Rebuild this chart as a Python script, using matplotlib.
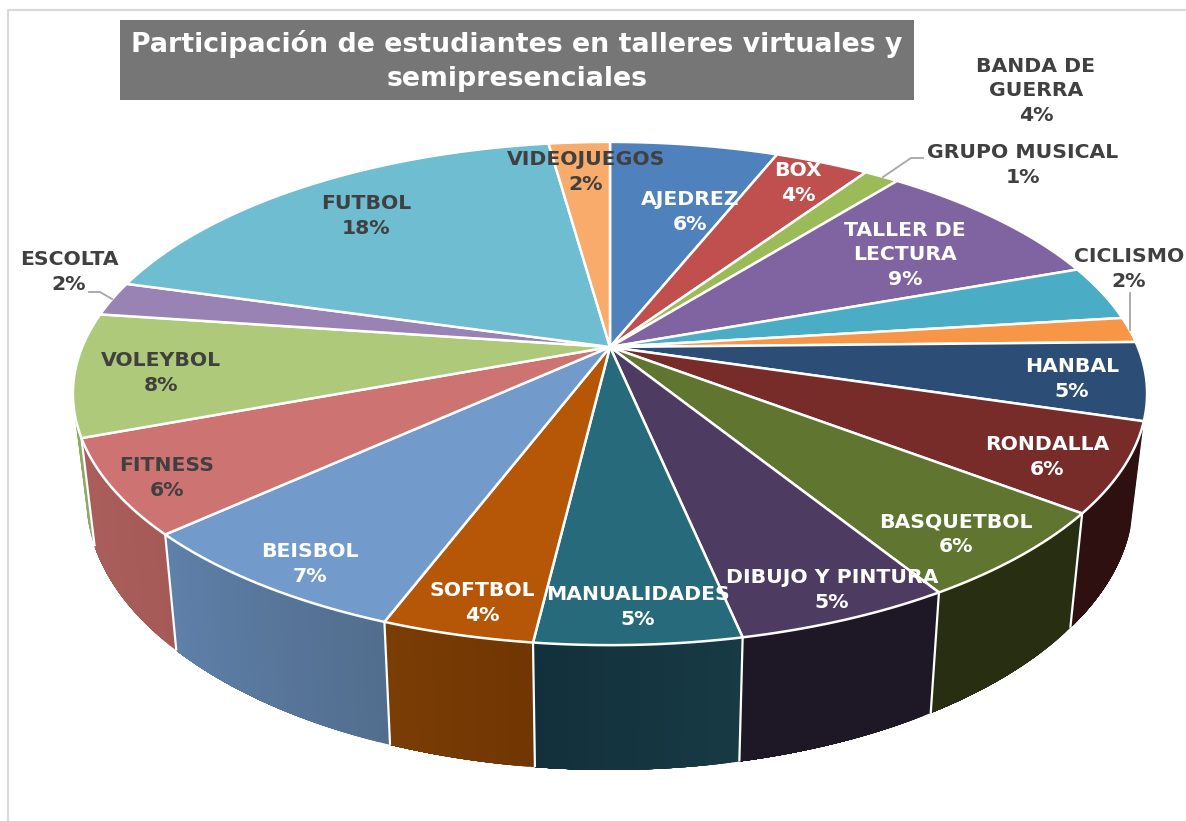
import numpy as np
import matplotlib
matplotlib.use('Agg')
import matplotlib.pyplot as plt
from matplotlib.colors import to_rgb
from matplotlib.patches import Rectangle

title = 'Participación de estudiantes en talleres virtuales y\nsemipresenciales'
talleres = ['AJEDREZ', 'BOX', 'GRUPO MUSICAL', 'TALLER DE\nLECTURA', 'BANDA DE\nGUERRA',
            'CICLISMO', 'HANBAL', 'RONDALLA', 'BASQUETBOL', 'DIBUJO Y PINTURA',
            'MANUALIDADES', 'SOFTBOL', 'BEISBOL', 'FITNESS', 'VOLEYBOL', 'ESCOLTA',
            'FUTBOL', 'VIDEOJUEGOS']
# printed labels
porcentajes = [6, 4, 1, 9, 4, 2, 5, 6, 6, 5, 5, 4, 7, 6, 8, 2, 18, 2]
# slice sizes (the labels are rounded)
shares = [6.05, 3.39, 1.26, 8.8, 3.55, 1.62, 5.0, 5.73, 5.8, 5.5, 5.2, 3.85, 7.45, 6.1, 7.9,
          2.2, 18.4, 2.2]

# styles, same order as talleres
top_colors = ['#4F81BD', '#C0504D', '#9BBB59', '#8064A2', '#4BACC6', '#F79646',
              '#2C4D75', '#772C2A', '#5F7530', '#4D3B62', '#276A7C', '#B65708',
              '#729ACA', '#CD7371', '#AFC97A', '#9983B5', '#6FBDD1', '#F9AB6B']
side_a = ['#3b5f8c', '#8e3b39', '#728a42', '#5f4a78', '#387f92', '#b76f34',
          '#1c3049', '#2e1010', '#272e12', '#1e1726', '#173a45', '#7a3d05',
          '#5f80aa', '#ab5f5d', '#8fa863', '#7f6c96', '#5c9dae', '#cf8e59']
side_b = ['#3b5f8c', '#8e3b39', '#728a42', '#5f4a78', '#387f92', '#b76f34',
          '#1c3049', '#2e1010', '#272e12', '#1e1726', '#12303c', '#703603',
          '#526e8e', '#a65a58', '#8fa863', '#7f6c96', '#5c9dae', '#cf8e59']
text_colors = ['white', 'white', '#404040', 'white', '#404040', '#404040'] + ['white'] * 7 + ['#404040'] * 5
label_xy = [(690, 212), (798, 183), (1023, 165), (905, 255), (1036, 91), (1129, 269),
            (1072, 379), (1047, 457), (956, 534), (832, 590), (638, 607), (482, 603),
            (310, 564), (167, 478), (161, 373), (69, 272), (366, 216), (586, 172)]
visible_walls = [14, 13, 12, 7, 8, 9, 11, 10]
seam_edges = range(8, 15)

# pie geometry in pixels, perspective circle -> screen
cx, cy = 610, 347
a, b, k = 527.8, 243.0, 0.1849


def top_pts(t):
    u, v = np.sin(t), np.cos(t)
    w = 1 + k * v
    return cx + a * u / w, cy - b * v / w


def bottom_pts(t):
    x, y = top_pts(t)
    return cx + 0.975 * (x - cx), 448 + 1.08 * (y - cy)


fig = plt.figure(figsize=(11.86, 8.21), dpi=100)
ax = fig.add_axes([0, 0, 1, 1])
ax.set_xlim(0, 1186)
ax.set_ylim(821, 0)
ax.axis('off')

# bits of the chart frame
ax.plot([8, 8, 1186], [821, 10, 10], color='#d9d9d9', lw=1.5, zorder=1)

edges = 2 * np.pi * np.concatenate([[0], np.cumsum(shares)]) / np.sum(shares)

# walls, back ones first so the front ones cover them
for i in visible_walls:
    t0, t1 = edges[i], edges[i + 1]
    ts = np.linspace(t0, t1, 25)
    c0, c1 = np.array(to_rgb(side_a[i])), np.array(to_rgb(side_b[i]))
    for j in range(len(ts) - 1):
        # each strip runs on to the end of the wall so no seams show
        tt = np.linspace(ts[j], t1, 25 - j)
        xt, yt = top_pts(tt)
        xb, yb = bottom_pts(tt)
        f = (j + 0.5) / (len(ts) - 1)
        c = c1 * f + c0 * (1 - f) if np.sin(t0) > 0 else c0 * f + c1 * (1 - f)
        ax.fill(np.r_[xt, xb[::-1]], np.r_[yt, yb[::-1]], facecolor=c, edgecolor='none', zorder=2)

for n in seam_edges:
    xt, yt = top_pts(edges[n])
    xb, yb = bottom_pts(edges[n])
    ax.plot([xt, xb], [yt, yb], color='white', lw=1.6, zorder=2, solid_capstyle='butt')

# top of the pie
for i in range(len(shares)):
    ts = np.linspace(edges[i], edges[i + 1], 60)
    x, y = top_pts(ts)
    ax.fill(np.r_[cx, x], np.r_[cy, y], facecolor=top_colors[i], edgecolor='white',
            lw=1.8, joinstyle='round', zorder=3)

# leader lines
ax.plot([923, 911, 883], [158, 158, 177], color='#a6a6a6', lw=1.3, zorder=4)
ax.plot([1130, 1130], [293, 330], color='#a6a6a6', lw=1.3, zorder=4)
ax.plot([89, 100, 112], [292, 292, 299], color='#a6a6a6', lw=1.3, zorder=4)

# title box
ax.add_patch(Rectangle((120, 20), 794, 80, facecolor='#767676', edgecolor='none', zorder=5))
ax.text(517, 61, title, color='white', fontsize=19.3, fontweight='bold', ha='center',
        va='center', linespacing=1.42, zorder=6)

for name, pct, (lx, ly), tc in zip(talleres, porcentajes, label_xy, text_colors):
    ax.text(lx, ly, '%s\n%d%%' % (name, pct), color=tc, fontsize=14.7, fontweight='bold',
            ha='center', va='center', linespacing=1.37, zorder=6)

fig.savefig('out.png', dpi=100, facecolor='white')
